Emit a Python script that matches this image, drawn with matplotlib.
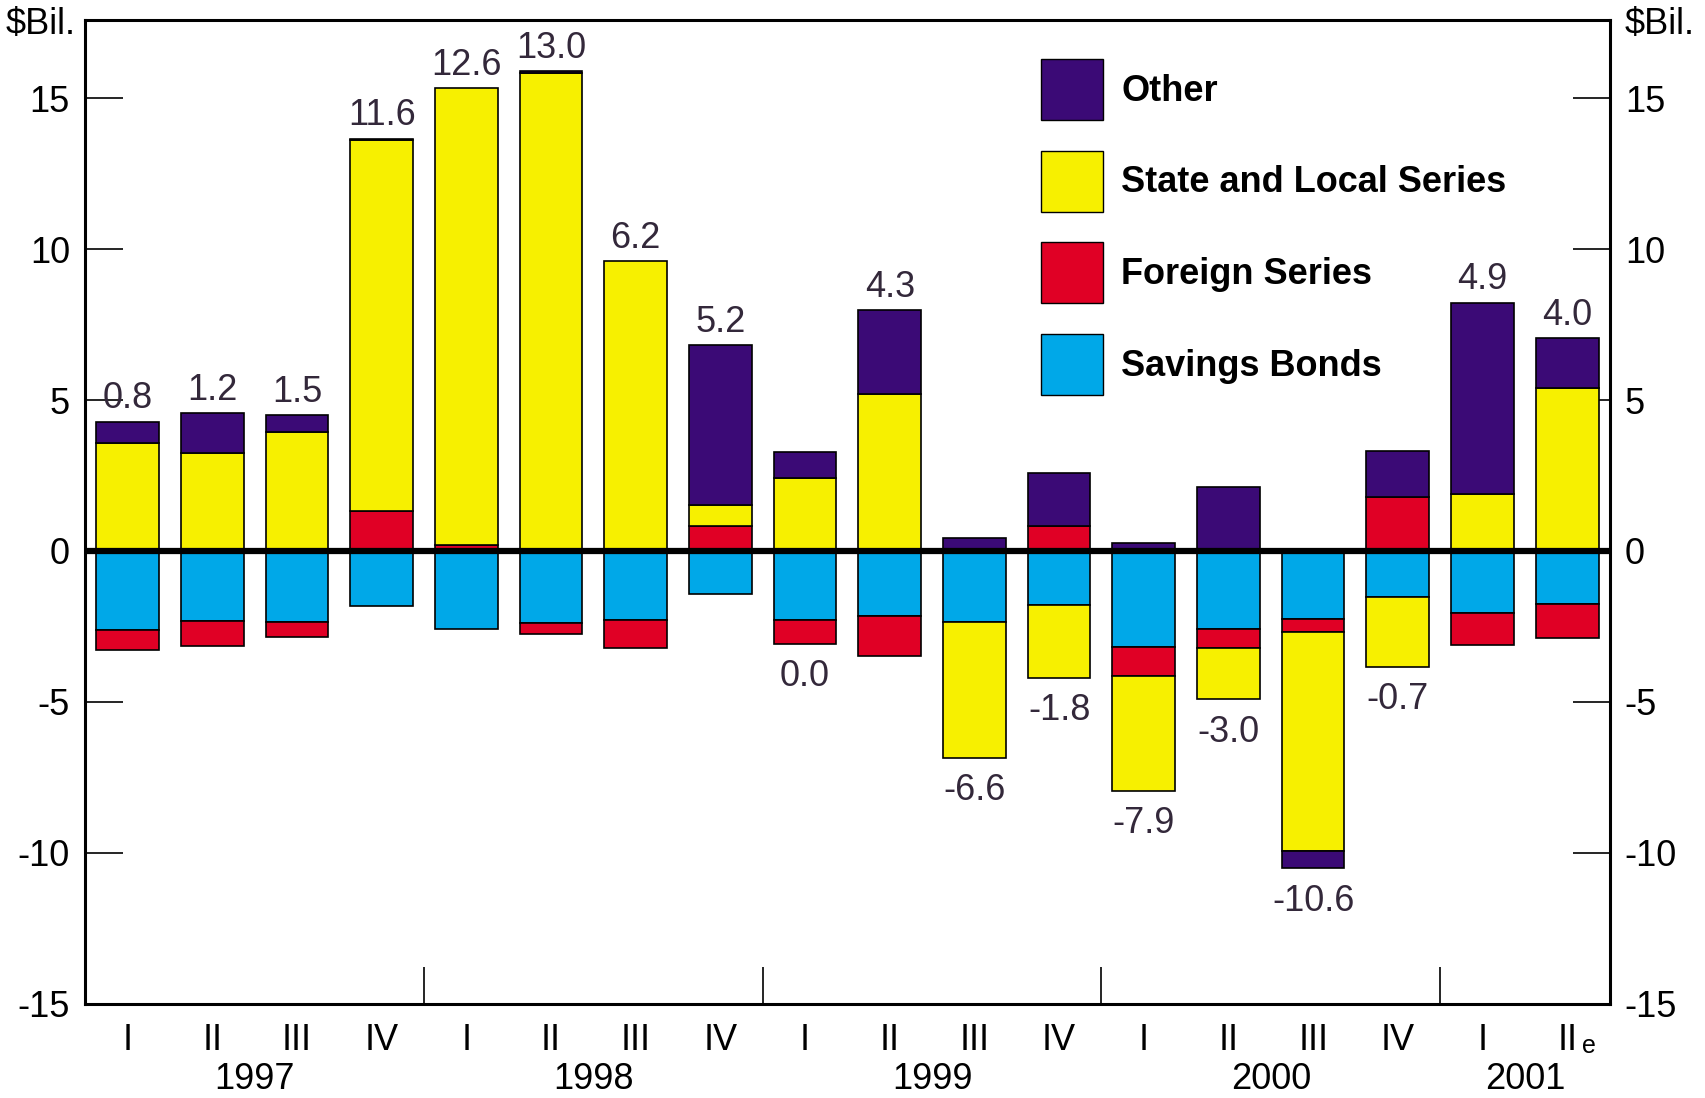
import numpy as np
import matplotlib
matplotlib.use("Agg")
import matplotlib.pyplot as plt
from matplotlib.patches import Patch

# quarterly change in nonmarketable Treasury securities, $ billions
quarters = ["I", "II", "III", "IV"] * 4 + ["I", "II"]
years = ["1997", "1998", "1999", "2000", "2001"]
quarters_per_year = [4, 4, 4, 4, 2]

savings = [-2.62, -2.33, -2.37, -1.83, -2.59, -2.40, -2.30, -1.44, -2.30,
           -2.15, -2.37, -1.80, -3.20, -2.59, -2.26, -1.54, -2.05, -1.76]
foreign = [-0.68, -0.83, -0.47, 1.33, 0.20, -0.36, -0.93, 0.83, -0.79,
           -1.33, 0.0, 0.83, -0.93, -0.64, -0.43, 1.80, -1.07, -1.11]
state_local = [3.59, 3.23, 3.95, 12.27, 15.13, 15.85, 9.59, 0.68, 2.41,
               5.21, -4.49, -2.40, -3.81, -1.69, -7.26, -2.30, 1.90, 5.39]
other = [0.68, 1.33, 0.54, 0.05, 0.0, 0.05, 0.0, 5.31, 0.86,
         2.76, 0.43, 1.76, 0.25, 2.12, -0.57, 1.50, 6.32, 1.65]
totals = ["0.8", "1.2", "1.5", "11.6", "12.6", "13.0", "6.2", "5.2", "0.0",
          "4.3", "-6.6", "-1.8", "-7.9", "-3.0", "-10.6", "-0.7", "4.9", "4.0"]

PURPLE = "#3b0a76"
YELLOW = "#f7f000"
RED = "#e00025"
CYAN = "#00a8e8"
LABEL = "#33283a"
FONT = ["Liberation Sans", "DejaVu Sans"]
FS = 26

plt.rcParams["font.family"] = FONT
plt.rcParams["axes.unicode_minus"] = False

fig = plt.figure(figsize=(17.05, 10.98), dpi=100)
ax = fig.add_axes([0.05, 0.086, 0.894, 0.896])

x = np.arange(len(quarters))
width = 0.74
pos_base = np.zeros(len(x))
neg_base = np.zeros(len(x))
series = [(savings, CYAN), (foreign, RED), (state_local, YELLOW), (other, PURPLE)]
for vals, col in series:
    v = np.array(vals)
    for i in range(len(x)):
        if v[i] > 0:
            ax.bar(x[i], v[i], width, bottom=pos_base[i], color=col,
                   edgecolor="black", linewidth=1.2, zorder=2)
            pos_base[i] += v[i]
        elif v[i] < 0:
            ax.bar(x[i], v[i], width, bottom=neg_base[i], color=col,
                   edgecolor="black", linewidth=1.2, zorder=2)
            neg_base[i] += v[i]

for i, t in enumerate(totals):
    if float(t) > 0:
        ax.annotate(t, (x[i], pos_base[i]), xytext=(0, 4), textcoords="offset points",
                    ha="center", va="bottom", fontsize=FS, color=LABEL)
    else:
        ax.annotate(t, (x[i], neg_base[i]), xytext=(0, -11), textcoords="offset points",
                    ha="center", va="top", fontsize=FS, color=LABEL)

ax.axhline(0, color="black", lw=4.5, zorder=3)

ax.set_xlim(-0.5, len(x) - 0.5)
ax.set_ylim(-15, 17.6)
ax.set_yticks(range(-15, 16, 5))
ax.tick_params(axis="y", direction="in", length=27, width=1.2, left=True, right=True,
               labelleft=True, labelright=True, labelsize=FS, pad=11)
ax.set_xticks(x)
ax.set_xticklabels(quarters)
ax.tick_params(axis="x", length=0, labelsize=FS, pad=14)
for s in ax.spines.values():
    s.set_linewidth(2.2)

# year labels + separators
ends = np.cumsum(quarters_per_year)
starts = ends - np.array(quarters_per_year)
for yr, a, b in zip(years, starts, ends):
    ax.text((a + b - 1) / 2, -0.077, yr, transform=ax.get_xaxis_transform(),
            ha="center", va="center", fontsize=FS)
ax.vlines(ends[:-1] - 0.5, -15, -13.8, color="black", lw=1.2)
ax.text(x[-1] + 0.26, -0.05, "e", transform=ax.get_xaxis_transform(),
        ha="center", va="baseline", fontsize=18)

ax.text(-0.006, 0.9956, r"\$Bil.", transform=ax.transAxes, ha="right", va="center",
        fontsize=FS)
ax.text(1.01, 0.9956, r"\$Bil.", transform=ax.transAxes, ha="left", va="center",
        fontsize=FS)

handles = [Patch(facecolor=PURPLE, edgecolor="black", label="Other"),
           Patch(facecolor=YELLOW, edgecolor="black", label="State and Local Series"),
           Patch(facecolor=RED, edgecolor="black", label="Foreign Series"),
           Patch(facecolor=CYAN, edgecolor="black", label="Savings Bonds")]
ax.legend(handles=handles, loc="upper left", bbox_to_anchor=(0.627, 0.96),
          frameon=False, handlelength=1.72, handleheight=2.23, labelspacing=0.84,
          handletextpad=0.5, borderpad=0, borderaxespad=0,
          prop=dict(family=FONT, weight="bold", size=FS))

fig.savefig("out.png", dpi=100)
